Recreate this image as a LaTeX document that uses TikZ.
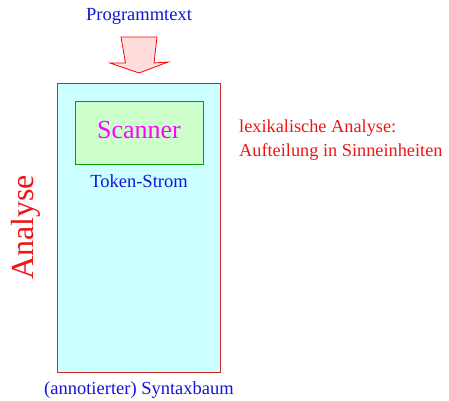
\documentclass[tikz,border=0pt]{standalone}
\usepackage{fontspec}
\setmainfont{Liberation Serif}
\definecolor{txtblue}{RGB}{20,20,215}
\definecolor{txtred}{RGB}{240,20,20}
\definecolor{boxred}{RGB}{200,40,40}
\definecolor{cyanfill}{RGB}{204,255,255}
\definecolor{greenfill}{RGB}{204,255,204}
\definecolor{greenline}{RGB}{0,160,0}
\definecolor{pinkfill}{RGB}{255,221,221}
\definecolor{magtxt}{RGB}{255,0,255}
\begin{document}
\begin{tikzpicture}[x=1pt,y=-1pt,
  mainbox/.style={draw=boxred,fill=cyanfill,line width=0.8pt,inner sep=0pt,anchor=north west},
  scanbox/.style={draw=greenline,fill=greenfill,line width=0.8pt,inner sep=0pt,anchor=north west},
  blocktip/.style={draw=red,fill=pinkfill,line width=0.8pt,line join=miter},
  bluetext/.style={text=txtblue,inner sep=0pt,font=\fontsize{18.5}{22}\selectfont},
  redtext/.style={text=txtred,inner sep=0pt,font=\fontsize{18.3}{22}\selectfont,anchor=base west},
]
\useasboundingbox (0,0) rectangle (449,400);
\node[mainbox,minimum width=163pt,minimum height=289pt] (main) at (57,83) {};
\node[scanbox,minimum width=128pt,minimum height=63pt] (scanbox) at (75,101) {};
\node[inner sep=0pt,anchor=base,text=magtxt,font=\fontsize{26}{30}\selectfont] (scanner) at (139,138) {Scanner};
\node[bluetext,anchor=base] (token) at (139,187) {Token-Strom};
\node[bluetext,anchor=base] (prog) at (139,20) {Programmtext};
\node[bluetext,anchor=base] (syntax) at (139,394) {(annotierter) Syntaxbaum};
\node[redtext] (lex) at (239,132) {lexikalische Analyse:};
\node[redtext] (auf) at (239,156) {Aufteilung in Sinneinheiten};
\node[inner sep=0pt,anchor=base west,rotate=90,text=txtred,font=\fontsize{32}{36}\selectfont] (analyse) at (33,280) {Analyse};
\draw[blocktip] (121,37) -- (157,37) -- (154,63) -- (168,62) -- (139,73) -- (110,63) -- (125.5,63) -- cycle;
\end{tikzpicture}
\end{document}
